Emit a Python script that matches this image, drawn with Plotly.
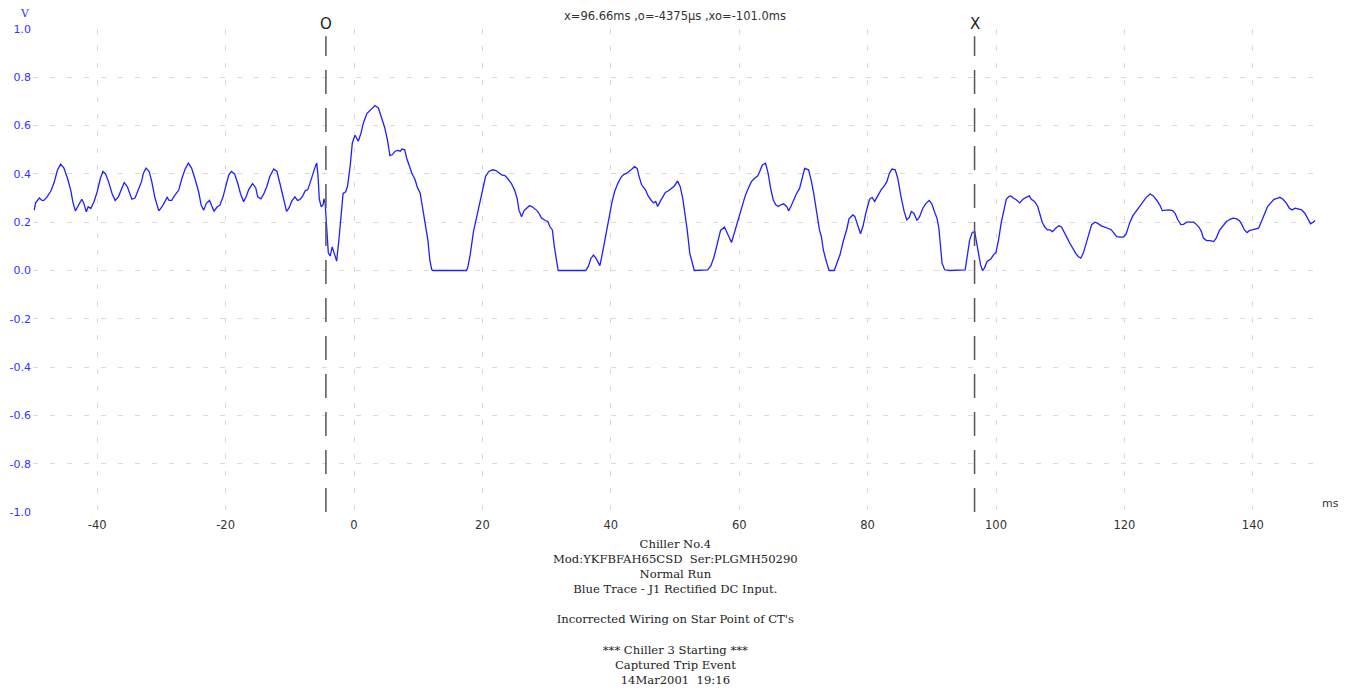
import plotly.graph_objects as go

# time (ms) and voltage (V)
t_ms = [
    -49.8, -49.6, -49.0, -48.6, -48.3, -47.8, -47.2, -46.7, -46.2, -45.7, -45.2, -44.6, -44.1, -43.8,
    -43.4, -42.9, -42.4, -42.1, -41.7, -41.4, -41.0, -40.5, -40.0, -39.5, -39.1, -38.7, -38.2, -37.7,
    -37.2, -36.7, -36.2, -35.8, -35.3, -35.0, -34.6, -34.1, -33.6, -33.1, -32.8, -32.4, -31.9, -31.5,
    -31.0, -30.4, -29.9, -29.5, -29.1, -28.8, -28.4, -28.0, -27.3, -26.8, -26.3, -25.8, -25.3, -24.8,
    -24.2, -23.8, -23.4, -23.0, -22.5, -22.2, -21.8, -21.3, -20.9, -20.4, -19.8, -19.5, -19.1, -18.6,
    -18.1, -17.7, -17.2, -16.8, -16.4, -15.8, -15.3, -15.0, -14.5, -14.1, -13.6, -13.1, -12.5, -12.0,
    -11.5, -11.0, -10.5, -10.1, -9.7, -9.2, -8.8, -8.4, -8.0, -7.6, -7.2, -6.8, -6.4, -6.1, -5.8,
    -5.6, -5.4, -5.1, -4.8, -4.7, -4.5, -4.25, -4.0, -3.7, -3.4, -3.1, -2.7, -2.3, -1.9, -1.7, -1.3,
    -1.0, -0.6, -0.26, 0.16, 0.67, 1.1, 1.45, 2.0, 2.5, 2.85, 3.27, 3.8, 4.3, 4.8, 5.2, 5.6, 6.0,
    6.4, 6.8, 7.2, 7.5, 7.9, 8.2, 8.6, 9.0, 9.5, 9.9, 10.3, 10.6, 11.1, 11.5, 11.8, 12.1, 12.3,
    17.5, 17.7, 18.1, 18.6, 19.1, 19.6, 20.2, 20.5, 21.0, 21.6, 22.1, 22.5, 23.0, 23.5, 23.9, 24.5,
    25.0, 25.4, 25.7, 26.1, 26.5, 26.9, 27.3, 27.7, 28.1, 28.5, 28.8, 29.2, 29.8, 30.2, 30.5, 30.9,
    31.2, 31.6, 31.8, 36.1, 36.5, 36.9, 37.3, 37.7, 38.0, 38.3, 38.7, 39.1, 39.6, 40.2, 40.6, 41.1,
    41.6, 42.0, 42.5, 42.9, 43.3, 43.7, 44.1, 44.4, 44.8, 45.4, 45.8, 46.3, 46.7, 47.0, 47.3, 47.7,
    48.1, 48.5, 49.0, 49.5, 49.9, 50.4, 50.8, 51.2, 51.6, 51.9, 52.3, 52.7, 53.0, 55.1, 55.6, 56.1,
    56.6, 57.1, 57.7, 58.1, 58.4, 58.8, 59.3, 59.8, 60.4, 60.9, 61.4, 61.9, 62.4, 62.9, 63.2, 63.6,
    64.1, 64.5, 64.9, 65.3, 65.7, 66.1, 66.5, 66.9, 67.4, 67.7, 68.1, 68.5, 68.9, 69.4, 69.8, 70.2,
    70.8, 71.2, 71.6, 72.0, 72.5, 72.8, 73.1, 73.5, 73.8, 74.0, 74.8, 75.2, 75.7, 76.2, 76.8, 77.1,
    77.7, 78.0, 78.4, 78.9, 79.3, 79.7, 80.3, 80.7, 81.1, 81.6, 82.1, 82.6, 83.0, 83.4, 83.8, 84.3,
    84.7, 85.2, 85.7, 86.1, 86.5, 86.8, 87.2, 87.7, 88.1, 88.6, 89.1, 89.6, 90.0, 90.4, 90.8, 91.1,
    91.4, 91.6, 92.0, 92.8, 95.2, 95.5, 95.9, 96.3, 96.7, 96.9, 97.3, 97.6, 97.9, 98.2, 98.6, 99.2,
    99.6, 100.0, 100.4, 100.8, 101.3, 101.6, 102.0, 102.3, 102.7, 103.2, 103.7, 104.2, 104.7, 105.2,
    105.5, 106.0, 106.5, 106.8, 107.2, 107.6, 108.0, 108.4, 108.8, 109.3, 109.8, 110.2, 110.6, 111.1,
    111.5, 111.9, 112.4, 112.8, 113.2, 113.6, 114.0, 114.5, 114.9, 115.4, 115.8, 116.4, 116.9, 117.4,
    117.9, 118.3, 118.8, 119.3, 119.8, 120.2, 120.4, 120.8, 121.3, 121.9, 122.4, 122.9, 123.4, 124.0,
    124.5, 125.0, 125.5, 125.9, 126.4, 126.9, 127.5, 127.9, 128.3, 128.8, 129.2, 129.7, 130.3, 130.8,
    131.2, 131.6, 132.0, 132.3, 132.8, 133.4, 133.9, 134.3, 134.8, 135.3, 135.9, 136.4, 136.9, 137.4,
    137.9, 138.3, 138.7, 139.1, 139.5, 139.9, 140.4, 140.9, 141.3, 141.8, 142.3, 142.8, 143.3, 143.9,
    144.2, 144.7, 145.2, 145.7, 146.1, 146.6, 147.1, 147.6, 148.1, 148.6, 149.0, 149.4, 149.7,
]
volts = [
    0.25, 0.28, 0.30, 0.29, 0.29, 0.305, 0.33, 0.365, 0.415, 0.44, 0.425, 0.38, 0.33, 0.285,
    0.247, 0.27, 0.295, 0.28, 0.243, 0.264, 0.257, 0.285, 0.326, 0.382, 0.41, 0.40, 0.365, 0.32,
    0.29, 0.305, 0.34, 0.364, 0.347, 0.32, 0.295, 0.30, 0.333, 0.368, 0.403, 0.424, 0.41, 0.368,
    0.30, 0.247, 0.264, 0.285, 0.303, 0.29, 0.29, 0.308, 0.333, 0.382, 0.42, 0.445, 0.424, 0.382,
    0.326, 0.27, 0.25, 0.278, 0.29, 0.27, 0.246, 0.264, 0.27, 0.305, 0.36, 0.396, 0.41, 0.40,
    0.36, 0.32, 0.285, 0.305, 0.335, 0.36, 0.342, 0.305, 0.297, 0.315, 0.346, 0.39, 0.42, 0.41,
    0.356, 0.294, 0.245, 0.26, 0.287, 0.305, 0.29, 0.294, 0.308, 0.33, 0.335, 0.366, 0.404, 0.425, 0.445,
    0.39, 0.294, 0.264, 0.273, 0.297, 0.28, 0.17, 0.073, 0.06, 0.098, 0.073, 0.039, 0.142, 0.266, 0.319, 0.326,
    0.35, 0.432, 0.528, 0.56, 0.535, 0.57, 0.61, 0.65, 0.663, 0.673, 0.683, 0.673, 0.636, 0.59, 0.542, 0.476, 0.48,
    0.494, 0.497, 0.494, 0.503, 0.50, 0.466, 0.432, 0.404, 0.377, 0.342, 0.321, 0.273, 0.211, 0.128, 0.046, 0.004, 0.0,
    0.0, 0.01, 0.065, 0.16, 0.22, 0.28, 0.348, 0.39, 0.41, 0.417, 0.414, 0.405, 0.396, 0.393, 0.382, 0.361,
    0.334, 0.30, 0.25, 0.223, 0.248, 0.258, 0.268, 0.265, 0.258, 0.248, 0.237, 0.217, 0.207, 0.203, 0.182, 0.168,
    0.10, 0.03, 0.0, 0.0, 0.017, 0.05, 0.064, 0.05, 0.037, 0.02, 0.072, 0.127, 0.21, 0.285, 0.327, 0.361,
    0.386, 0.397, 0.403, 0.41, 0.42, 0.43, 0.423, 0.39, 0.355, 0.334, 0.31, 0.29, 0.28, 0.286, 0.265, 0.286,
    0.306, 0.323, 0.33, 0.34, 0.35, 0.37, 0.348, 0.30, 0.23, 0.168, 0.072, 0.023, 0.0, 0.003, 0.02, 0.058,
    0.113, 0.166, 0.18, 0.16, 0.14, 0.116, 0.16, 0.21, 0.258, 0.306, 0.34, 0.368, 0.382, 0.392, 0.41, 0.437,
    0.444, 0.403, 0.34, 0.292, 0.272, 0.265, 0.272, 0.276, 0.265, 0.247, 0.268, 0.295, 0.317, 0.34, 0.382, 0.423,
    0.417, 0.375, 0.32, 0.25, 0.168, 0.14, 0.086, 0.044, 0.02, 0.0, 0.0, 0.03, 0.065, 0.12, 0.175, 0.214,
    0.23, 0.224, 0.19, 0.152, 0.185, 0.235, 0.295, 0.303, 0.286, 0.313, 0.334, 0.35, 0.368, 0.403, 0.42, 0.417,
    0.382, 0.306, 0.244, 0.21, 0.22, 0.244, 0.237, 0.207, 0.223, 0.258, 0.278, 0.29, 0.276, 0.244, 0.217, 0.175,
    0.10, 0.03, 0.003, 0.0, 0.003, 0.058, 0.127, 0.157, 0.161, 0.127, 0.072, 0.023, 0.0, 0.01, 0.037, 0.047,
    0.065, 0.075, 0.127, 0.196, 0.258, 0.295, 0.306, 0.309, 0.30, 0.292, 0.28, 0.295, 0.303, 0.309,
    0.295, 0.286, 0.265, 0.235, 0.20, 0.18, 0.168, 0.168, 0.161, 0.175, 0.185, 0.18, 0.157, 0.134,
    0.113, 0.092, 0.072, 0.058, 0.051, 0.072, 0.11, 0.157, 0.19, 0.20, 0.196, 0.185, 0.18, 0.175,
    0.17, 0.157, 0.14, 0.138, 0.138, 0.148, 0.161, 0.196, 0.226, 0.248, 0.265, 0.286, 0.303, 0.317,
    0.309, 0.292, 0.272, 0.248, 0.251, 0.251, 0.248, 0.237, 0.211, 0.19, 0.191, 0.20, 0.20, 0.20,
    0.191, 0.18, 0.161, 0.134, 0.124, 0.124, 0.12, 0.134, 0.166, 0.185, 0.203, 0.211, 0.217, 0.215,
    0.207, 0.19, 0.168, 0.157, 0.166, 0.168, 0.17, 0.175, 0.20, 0.23, 0.265, 0.28, 0.295, 0.30,
    0.303, 0.295, 0.28, 0.258, 0.251, 0.258, 0.255, 0.251, 0.237, 0.21, 0.193, 0.20, 0.207,
]

# cursors
cursor_pos = [-4.375, 96.66]
cursor_labels = ["O", "X"]

x_ticks = [-40, -20, 0, 20, 40, 60, 80, 100, 120, 140]
y_ticks = [-1.0, -0.8, -0.6, -0.4, -0.2, 0.0, 0.2, 0.4, 0.6, 0.8, 1.0]
# plain hyphen for the minus sign, as on the original
x_tick_text = [str(v) for v in x_ticks]
y_tick_text = ["%.1f" % v for v in y_ticks]

header = "x=96.66ms ,o=-4375µs ,xo=-101.0ms"
footer_lines = [
    "Chiller No.4",
    "Mod:YKFBFAH65CSD  Ser:PLGMH50290",
    "Normal Run",
    "Blue Trace - J1 Rectified DC Input.",
    "",
    "Incorrected Wiring on Star Point of CT's",
    "",
    "*** Chiller 3 Starting ***",
    "Captured Trip Event",
    "14Mar2001  19:16",
]

fig = go.Figure()

fig.add_trace(go.Scatter(
    x=t_ms, y=volts,
    mode='lines',
    line=dict(color='#1f1fff', width=1.3),
    showlegend=False,
))

# cursor lines and their markers
for pos, lab in zip(cursor_pos, cursor_labels):
    fig.add_shape(
        type="line", x0=pos, x1=pos, y0=0, y1=0.985, yref="paper",
        line=dict(color="#555555", width=1.5, dash="24px,14px"),
    )
    fig.add_annotation(
        x=pos, y=1.0, yref="paper", text=lab, showarrow=False,
        yanchor="bottom", yshift=-6,
        font=dict(family="DejaVu Sans", size=15, color="#222222"),
    )

fig.add_annotation(
    x=0.5, y=1.0, xref="paper", yref="paper", text=header, showarrow=False,
    yanchor="bottom", yshift=4,
    font=dict(family="DejaVu Sans", size=11.5, color="#333333"),
)
fig.add_annotation(
    x=0, y=1.0, xref="paper", yref="paper", text="V", showarrow=False,
    xanchor="right", yanchor="bottom", xshift=-1, yshift=7,
    font=dict(family="DejaVu Serif", size=11, color="#3333ff"),
)
fig.add_annotation(
    x=1.0, y=0, xref="paper", yref="paper", text="ms", showarrow=False,
    xanchor="left", yanchor="bottom", xshift=3, yshift=0,
    font=dict(family="DejaVu Sans", size=11, color="#333333"),
)
fig.add_annotation(
    x=0.5, y=0, xref="paper", yref="paper", text="<br>".join(footer_lines),
    showarrow=False, xanchor="center", yanchor="top", yshift=-23, align="center",
    font=dict(family="DejaVu Serif", size=11.6, color="#222222"),
)

# page body has an 8px margin, so the figure is a bit smaller than the window
fig.update_layout(
    width=1345, height=682,
    plot_bgcolor='white', paper_bgcolor='white',
    margin=dict(l=25, r=36, t=21, b=178),
    xaxis=dict(
        range=[-50, 150], tickvals=x_ticks, ticktext=x_tick_text,
        showline=False, zeroline=False,
        showgrid=True, gridcolor='#d9d9d9', griddash='5px,12px', gridwidth=1,
        tickfont=dict(family="DejaVu Sans", size=11.5, color='#333333'),
        ticks='', ticklabelstandoff=4, automargin=False,
    ),
    yaxis=dict(
        range=[-1.0, 1.0], tickvals=y_ticks, ticktext=y_tick_text,
        showline=False, zeroline=False,
        showgrid=True, gridcolor='#d9d9d9', griddash='5px,12px', gridwidth=1,
        tickfont=dict(family="DejaVu Sans", size=11, color='#3333ff'),
        ticks='', ticklabelstandoff=1, automargin=False,
    ),
)

fig.write_html("out.html")
